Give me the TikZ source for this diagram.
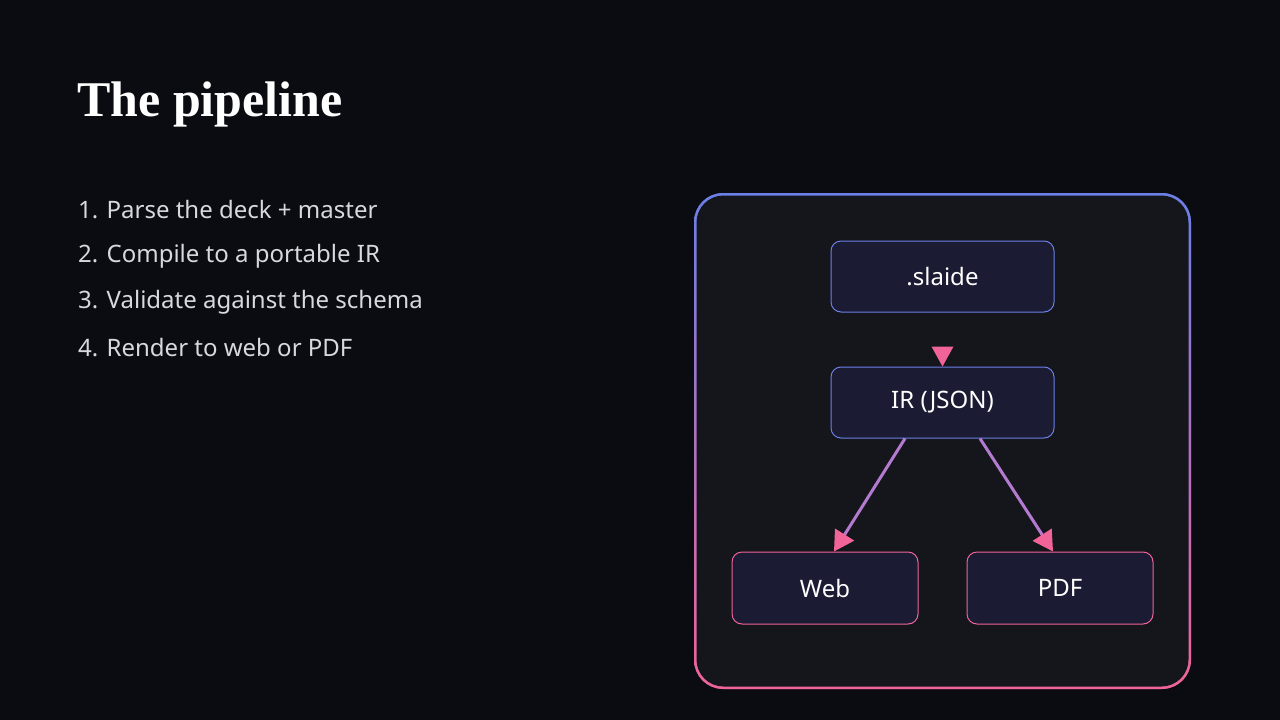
\documentclass[tikz,border=0pt]{standalone}
\usepackage{fontspec}
\setmainfont{Noto Sans}
\newfontfamily\titlefont{Liberation Serif}
\usetikzlibrary{arrows.meta}
\definecolor{bg}{HTML}{0B0B12}
\definecolor{panel}{HTML}{15151C}
\definecolor{boxfill}{HTML}{1B1B33}
\definecolor{blu}{HTML}{6B80E6}
\definecolor{pnk}{HTML}{F0649A}
\definecolor{purp}{HTML}{B47AD0}
\definecolor{txt}{HTML}{D8D8DE}
\tikzset{
  box/.style={draw=#1, fill=boxfill, rounded corners=10pt, line width=1pt, text=white, font=\fontsize{24}{28}\selectfont},
  conn/.style={line width=3pt, draw=purp, -{Triangle[length=20pt,width=22pt,color=pnk]}},
  item/.style={anchor=west, text=txt, font=\fontsize{24}{28}\selectfont, inner sep=0pt}
}
\begin{document}
\begin{tikzpicture}[x=1pt,y=-1pt]
\fill[bg] (0,0) rectangle (1280,720);
\useasboundingbox (0,0) rectangle (1280,720);
\node[anchor=west, text=white, inner sep=0pt, font=\titlefont\bfseries\fontsize{50}{56}\selectfont] (title) at (77,104) {The pipeline};
\node[item] (i1) at (78,210) {1. \textbf{Parse} the deck + master};
\node[item] (i2) at (78,256) {2. \textbf{Compile} to a portable IR};
\node[item] (i3) at (78,302) {3. \textbf{Validate} against the schema};
\node[item] (i4) at (78,348) {4. \textbf{Render} to web or PDF};
\shade[left color=blu, right color=pnk, shading angle=0, rounded corners=29pt] (694,193) rectangle (1191,689);
\shade[top color=blu, bottom color=pnk, opacity=0.5, rounded corners=29pt] (694,193) rectangle (1191,689);
\fill[panel, rounded corners=27pt] (696.5,195.5) rectangle (1188.5,686.5);
\node[box=blu, minimum width=223pt, minimum height=71pt] (sl) at (942.5,276.5) {.slaide};
\node[box=blu, minimum width=223pt, minimum height=71pt] (ir) at (942.5,402.5) {IR (JSON)};
\node[box=pnk, minimum width=186pt, minimum height=72pt] (web) at (825,588) {Web};
\node[box=pnk, minimum width=186pt, minimum height=72pt] (pdf) at (1060,588) {PDF};
\fill[pnk] (ir.north) -- ++(-11,-20) -- ++(22,0) -- cycle;
\draw[conn] (ir.south -| 905,0) -- (web.north -| 834,0);
\draw[conn] (ir.south -| 980,0) -- (pdf.north -| 1053,0);
\end{tikzpicture}
\end{document}
